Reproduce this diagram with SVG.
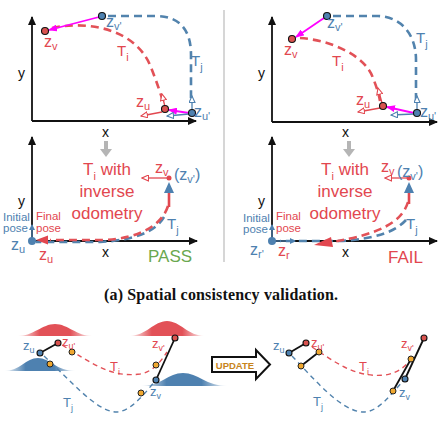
<svg xmlns="http://www.w3.org/2000/svg" width="442" height="428" viewBox="0 0 442 428">
<defs>
<style>
text{font-family:"Liberation Sans",Arial,sans-serif}
text.cap{font-family:"Liberation Serif","Times New Roman",serif;font-weight:bold;font-size:16px;fill:#111}
.r{fill:#e2474f}.b{fill:#4e81b0}.k{fill:#111}
.z{font-size:16px}.s{font-size:11px}.lab{font-size:15px}
.big{font-size:17px;text-anchor:middle;fill:#e2474f}
.ax{stroke:#111;stroke-width:1.8;fill:none}
.dr{stroke:#e25157;stroke-width:2.6;fill:none;stroke-dasharray:8 5}
.db{stroke:#5283ad;stroke-width:2.6;fill:none;stroke-dasharray:8 5}
.dr2{stroke:#e25157;stroke-width:1.4;fill:none;stroke-dasharray:5 4}
.db2{stroke:#5283ad;stroke-width:1.4;fill:none;stroke-dasharray:5 4}
.mg{stroke:#f0f;stroke-width:1.8;fill:none}
.ar{stroke:#e2474f;stroke-width:1.3;fill:none}
.ab{stroke:#4e81b0;stroke-width:1.3;fill:none}
.pr{fill:#d9534f;stroke:#111;stroke-width:1.1}
.pb{fill:#4e81b0;stroke:#111;stroke-width:1.1}
.po{fill:#f0a830;stroke:#222;stroke-width:1}
.bl{stroke:#111;stroke-width:1.8}
.sm{font-size:13px}.ss{font-size:9px}
</style>
<marker id="mk" markerWidth="9" markerHeight="8" refX="8" refY="4" orient="auto" markerUnits="userSpaceOnUse"><path d="M0,0 L9,4 L0,8 Z" fill="#111"/></marker>
<marker id="mm" markerWidth="9" markerHeight="7" refX="8" refY="3.5" orient="auto" markerUnits="userSpaceOnUse"><path d="M0,0 L9,3.5 L0,7 Z" fill="#f0f"/></marker>
<marker id="or" markerWidth="8" markerHeight="7" refX="7" refY="3.5" orient="auto" markerUnits="userSpaceOnUse"><path d="M0.5,0.5 L7,3.5 L0.5,6.5 Z" fill="#fff" stroke="#e2474f" stroke-width="1.1"/></marker>
<marker id="ob" markerWidth="8" markerHeight="7" refX="7" refY="3.5" orient="auto" markerUnits="userSpaceOnUse"><path d="M0.5,0.5 L7,3.5 L0.5,6.5 Z" fill="#fff" stroke="#4e81b0" stroke-width="1.1"/></marker>
<marker id="fb" markerWidth="6" markerHeight="6" refX="5" refY="3" orient="auto" markerUnits="userSpaceOnUse"><path d="M0,0 L6,3 L0,6 Z" fill="#4e81b0"/></marker>
<linearGradient id="gr" x1="0" y1="0" x2="1" y2="0"><stop offset="0" stop-color="#e25157" stop-opacity="0"/><stop offset="0.3" stop-color="#e25157"/><stop offset="0.7" stop-color="#e25157"/><stop offset="1" stop-color="#e25157" stop-opacity="0"/></linearGradient>
<linearGradient id="gb" x1="0" y1="0" x2="1" y2="0"><stop offset="0" stop-color="#4e81b0" stop-opacity="0"/><stop offset="0.3" stop-color="#4e81b0"/><stop offset="0.7" stop-color="#4e81b0"/><stop offset="1" stop-color="#4e81b0" stop-opacity="0"/></linearGradient>
</defs>
<rect width="442" height="428" fill="#fff"/>
<line x1="224" y1="10" x2="224" y2="262" stroke="#bbb" stroke-width="1.2"/>

<g id="axes">
<path class="ax" d="M32 121 V17" marker-end="url(#mk)"/><path class="ax" d="M32 121 H196" marker-end="url(#mk)"/>
<path class="ax" d="M272 122 V17" marker-end="url(#mk)"/><path class="ax" d="M272 122 H437" marker-end="url(#mk)"/>
<path class="ax" d="M32 241 V137" marker-end="url(#mk)"/><path class="ax" d="M32 241 H197" marker-end="url(#mk)"/>
<path class="ax" d="M272 241 V137" marker-end="url(#mk)"/><path class="ax" d="M272 241 H437" marker-end="url(#mk)"/>
<text class="k" x="18" y="78" font-size="14">y</text><text class="k" x="102" y="137" font-size="14">x</text>
<text class="k" x="258" y="78" font-size="14">y</text><text class="k" x="342" y="137" font-size="14">x</text>
<text class="k" x="18" y="206" font-size="14">y</text><text class="k" x="102" y="257" font-size="14">x</text>
<text class="k" x="258" y="206" font-size="14">y</text><text class="k" x="342" y="257" font-size="14">x</text>
</g>

<g id="connectors">
<path class="dr" d="M52 28 C90 20 135 30 150 65 C157 82 162 98 164 105"/>
<path class="db" d="M108 16 L155 16 C180 16 191 30 191 55 L191 99"/>
<path class="mg" d="M99 17 L49 30" marker-end="url(#mm)"/>
<path class="mg" d="M189 113 L169 110" marker-end="url(#mm)"/>
<path class="ar" d="M165 107 L162 94" marker-end="url(#or)"/>
<path class="ar" d="M162 112 L141 116" marker-end="url(#or)"/>
<path class="ab" d="M192 110 L192 96" marker-end="url(#ob)"/>
<path class="ab" d="M189 114 L167 116" marker-end="url(#ob)"/>
<path class="dr" d="M300 38 C330 40 365 55 373 78 C377 88 379 95 380 101"/>
<path class="db" d="M333 16 L378 16 C402 17 416 35 416 60 L416 101"/>
<path class="mg" d="M324 18 L296 37" marker-end="url(#mm)"/>
<path class="mg" d="M414 113 L387 107" marker-end="url(#mm)"/>
<path class="ar" d="M382 103 L378 88" marker-end="url(#or)"/>
<path class="ar" d="M380 108 L358 112" marker-end="url(#or)"/>
<path class="ab" d="M417 110 L417 96" marker-end="url(#ob)"/>
<path class="ab" d="M414 114 L391 115" marker-end="url(#ob)"/>
<path class="db" d="M164 217 C155 232 135 240 100 242 L36 242"/>
<path class="dr" d="M168 206 C162 225 140 238 105 240 L50 240"/>
<path d="M36 240 L48 235.5 L48 244.5 Z" fill="#e2474f"/>
<path d="M169 207 V190" stroke="#e2474f" stroke-width="2.6"/>
<path d="M169 182 L174 193 L164 193 Z" fill="#4e81b0"/>
<path class="ar" d="M168 178 L142 178" marker-end="url(#or)"/>
<path class="ab" d="M32 238 V225" marker-end="url(#fb)"/>
<path class="db" d="M406 220 C395 232 375 239 340 241 L280 241"/>
<path class="dr" d="M408 202 C402 222 380 234 332 242"/>
<path d="M314 245 L331 237 L333 247 Z" fill="#e2474f"/>
<path d="M409 204 V192" stroke="#e2474f" stroke-width="2.6"/>
<path d="M409 182 L414 193 L404 193 Z" fill="#4e81b0"/>
<path class="ar" d="M408 178 L385 178" marker-end="url(#or)"/>
<path class="ab" d="M272 238 V225" marker-end="url(#fb)"/>
<path class="ab" d="M276 241 H295" marker-end="url(#fb)"/>
<path d="M104 141 H108 V149 H112 L106 157 L100 149 H104 Z" fill="#b5b5b5"/>
<path d="M347 141 H351 V149 H355 L349 157 L343 149 H347 Z" fill="#b5b5b5"/>
<path class="dr2" d="M62 345 C90 362 110 378 140 374 C152 372 160 363 167 352"/>
<path class="db2" d="M44 356 C70 380 95 410 115 412 C130 413 145 393 156 380"/>
<path class="dr2" d="M312 347 C335 362 355 378 385 375 C398 373 406 366 411 359"/>
<path class="db2" d="M292 356 C315 380 340 410 362 412 C378 413 390 395 405 379"/>
<line class="bl" x1="40" y1="353" x2="58" y2="343"/>
<line class="bl" x1="175" y1="338" x2="156" y2="380"/>
<line class="bl" x1="289" y1="353" x2="306" y2="343"/>
<line class="bl" x1="319" y1="352" x2="301" y2="366"/>
<line class="bl" x1="424" y1="338" x2="405" y2="379"/>
<line class="bl" x1="411" y1="359" x2="393" y2="391"/>
</g>

<g id="bumps">
<path d="M17 336 C34 336 42 324 55 324 C68 324 76 336 93 336 Z" fill="url(#gr)"/>
<path d="M129 336 C146 336 154 321 167 321 C180 321 188 336 205 336 Z" fill="url(#gr)"/>
<path d="M4 371 C20 371 26 358 38 358 C50 358 56 371 76 371 Z" fill="url(#gb)"/>
<path d="M140 386 C162 386 168 373 183 373 C198 373 206 386 228 386 Z" fill="url(#gb)"/>
</g>

<g id="nodes-top-left">
<circle class="pb" cx="102" cy="16" r="3.5"/><circle class="pr" cx="45" cy="31" r="3.5"/>
<circle class="pr" cx="165" cy="109" r="3.5"/><circle class="pb" cx="192" cy="113" r="3.5"/>
<text class="r z" x="44" y="47">z<tspan class="s" dy="3">v</tspan></text>
<text class="b z" x="106" y="27">z<tspan class="s" dy="3">v'</tspan></text>
<text class="r z" x="136" y="107">z<tspan class="s" dy="3">u</tspan></text>
<text class="b z" x="194" y="117">z<tspan class="s" dy="3">u'</tspan></text>
<text class="r lab" x="117" y="56">T<tspan class="s" dy="5">i</tspan></text>
<text class="b lab" x="191" y="66">T<tspan class="s" dy="5">j</tspan></text>
</g>

<g id="nodes-top-right">
<circle class="pb" cx="327" cy="16" r="3.5"/><circle class="pr" cx="292" cy="39" r="3.5"/>
<circle class="pr" cx="383" cy="106" r="3.5"/><circle class="pb" cx="417" cy="113" r="3.5"/>
<text class="r z" x="284" y="55">z<tspan class="s" dy="3">v</tspan></text>
<text class="b z" x="327" y="28">z<tspan class="s" dy="3">v'</tspan></text>
<text class="r z" x="356" y="105">z<tspan class="s" dy="3">u</tspan></text>
<text class="b z" x="420" y="117">z<tspan class="s" dy="3">u'</tspan></text>
<text class="r lab" x="332" y="66">T<tspan class="s" dy="5">i</tspan></text>
<text class="b lab" x="416" y="43">T<tspan class="s" dy="5">j</tspan></text>
</g>

<g id="nodes-bottom-left">
<text class="big" x="107" y="175">T<tspan font-size="11" dy="5">i</tspan><tspan dy="-5"> with</tspan></text>
<text class="big" x="107" y="197">inverse</text>
<text class="big" x="107" y="219">odometry</text>
<circle cx="169" cy="178" r="2.5" fill="#e2474f"/>
<text class="r z" x="155" y="173">z<tspan class="s" dy="3">v</tspan></text>
<text class="b z" x="174" y="180">(z<tspan class="s" dy="3">v'</tspan><tspan dy="-3">)</tspan></text>
<text class="b lab" x="167" y="229">T<tspan class="s" dy="5">j</tspan></text>
<circle cx="32" cy="241" r="4" fill="#4e81b0"/>
<text class="b" x="3" y="221" font-size="11.5">Initial</text>
<text class="b" x="3" y="232" font-size="11.5">pose</text>
<text class="r" x="36" y="220" font-size="11.5">Final</text>
<text class="r" x="36" y="232" font-size="11.5">pose</text>
<text class="b z" x="11" y="250">z<tspan class="s" dy="3">u</tspan></text>
<text class="r z" x="39" y="260">z<tspan class="s" dy="3">u</tspan></text>
<text x="148" y="262" font-size="17" fill="#6aa84f">PASS</text>
</g>

<g id="nodes-bottom-right">
<text class="big" x="345" y="175">T<tspan font-size="11" dy="5">i</tspan><tspan dy="-5"> with</tspan></text>
<text class="big" x="345" y="197">inverse</text>
<text class="big" x="345" y="219">odometry</text>
<circle cx="409" cy="178" r="2.5" fill="#e2474f"/>
<text class="r z" x="381" y="172">z<tspan class="s" dy="3">v</tspan></text>
<text class="b z" x="397" y="177">(z<tspan class="s" dy="3">v'</tspan><tspan dy="-3">)</tspan></text>
<text class="b lab" x="406" y="229">T<tspan class="s" dy="5">j</tspan></text>
<circle cx="272" cy="241" r="4" fill="#4e81b0"/>
<text class="b" x="243" y="222" font-size="11.5">Initial</text>
<text class="b" x="243" y="233" font-size="11.5">pose</text>
<text class="r" x="276" y="220" font-size="11.5">Final</text>
<text class="r" x="276" y="232" font-size="11.5">pose</text>
<text class="b z" x="250" y="255">z<tspan class="s" dy="3">r'</tspan></text>
<text class="r z" x="278" y="256">z<tspan class="s" dy="3">r</tspan></text>
<text x="388" y="263" font-size="17" fill="#e2474f">FAIL</text>
</g>

<text class="cap" x="221" y="300" text-anchor="middle" textLength="234">(a) Spatial consistency validation.</text>

<g id="nodes-bottom-before">
<circle class="pb" cx="40" cy="353" r="3"/><circle class="pr" cx="58" cy="343" r="3"/>
<circle class="po" cx="72" cy="352" r="3"/><circle class="po" cx="50" cy="364" r="3"/>
<circle class="pr" cx="175" cy="338" r="3"/><circle class="pb" cx="156" cy="380" r="3"/>
<circle class="po" cx="156" cy="365" r="3"/><circle class="po" cx="141" cy="393" r="3"/>
<text class="b sm" x="23" y="350">z<tspan class="ss" dy="3">u</tspan></text>
<text class="r sm" x="62" y="346">z<tspan class="ss" dy="3">u'</tspan></text>
<text class="r sm" x="110" y="371">T<tspan class="ss" dy="4">i</tspan></text>
<text class="r sm" x="152" y="348">z<tspan class="ss" dy="3">v'</tspan></text>
<text class="b sm" x="150" y="396">z<tspan class="ss" dy="3">v</tspan></text>
<text class="b sm" x="63" y="407">T<tspan class="ss" dy="4">j</tspan></text>
</g>

<g id="update">
<path d="M212 357 H256 V350 L270 364.5 L256 379 V372 H212 Z" fill="#fff" stroke="#111" stroke-width="2"/>
<text x="235" y="368.5" text-anchor="middle" font-size="9.5" font-weight="bold" fill="#c8841a">UPDATE</text>
</g>

<g id="nodes-bottom-after">
<circle class="pb" cx="289" cy="353" r="3"/><circle class="pr" cx="306" cy="343" r="3"/>
<circle class="po" cx="319" cy="352" r="3"/><circle class="po" cx="301" cy="366" r="3"/>
<circle class="pr" cx="424" cy="338" r="3"/><circle class="pb" cx="405" cy="379" r="3"/>
<circle class="po" cx="411" cy="359" r="3"/><circle class="po" cx="393" cy="391" r="3"/>
<text class="b sm" x="273" y="350">z<tspan class="ss" dy="3">u</tspan></text>
<text class="r sm" x="311" y="347">z<tspan class="ss" dy="3">u'</tspan></text>
<text class="r sm" x="359" y="371">T<tspan class="ss" dy="4">i</tspan></text>
<text class="r sm" x="401" y="348">z<tspan class="ss" dy="3">v'</tspan></text>
<text class="b sm" x="399" y="397">z<tspan class="ss" dy="3">v</tspan></text>
<text class="b sm" x="313" y="406">T<tspan class="ss" dy="4">j</tspan></text>
</g>
</svg>
